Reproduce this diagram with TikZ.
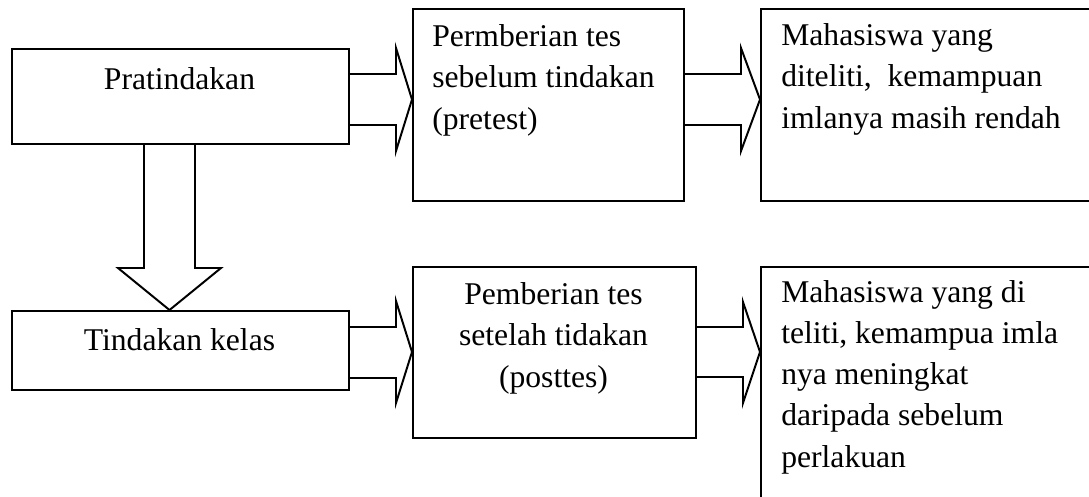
\documentclass[tikz,border=0pt]{standalone}
\usepackage{fontspec}
\setmainfont{Liberation Serif}
\usetikzlibrary{calc}

\begin{document}
\begin{tikzpicture}[x=0.025cm,y=-0.025cm,
  kotak/.style={draw,line width=1.4pt,inner sep=0pt,anchor=north west},
  teks/.style={inner sep=0pt,font=\fontsize{22.5pt}{29.2pt}\selectfont},
  panah/.style={draw,line width=1.4pt,line join=miter}]

\useasboundingbox (0,0) rectangle (1089,496);
\clip (0,0) rectangle (1089,496);

% kotak
\node[kotak,minimum width=8.425cm,minimum height=2.375cm] (pra) at (11,48) {};
\node[kotak,minimum width=6.775cm,minimum height=4.8cm] (pre) at (412,8) {};
\node[kotak,minimum width=8.4cm,minimum height=4.8cm] (hasil1) at (760,8) {};
\node[kotak,minimum width=8.425cm,minimum height=1.975cm] (tin) at (11,310) {};
\node[kotak,minimum width=7.075cm,minimum height=4.275cm] (post) at (412,266) {};
\node[kotak,minimum width=8.4cm,minimum height=6.5cm] (hasil2) at (760,266) {};

% teks (base = garis dasar baris terakhir)
\node[teks,anchor=base] (tpra) at (179.5,89) {Pratindakan};
\node[teks,anchor=base west,align=left] (tpre) at (432,129)
  {Permberian tes\\sebelum tindakan\\(pretest)};
\node[teks,anchor=base west,align=left] (thasil1) at (781,128)
  {Mahasiswa yang\\diteliti,\ \ kemampuan\\imlanya masih rendah};
\node[teks,anchor=base] (ttin) at (179.5,350) {Tindakan kelas};
\node[teks,anchor=base,align=center] (tpost) at (553.5,387)
  {Pemberian tes\\setelah tidakan\\(posttes)};
\node[teks,anchor=base west,align=left] (thasil2) at (781,467)
  {Mahasiswa yang di\\teliti, kemampua imla\\nya meningkat\\daripada sebelum\\perlakuan};

% panah blok
\draw[panah] (pra.east |- 0,74) -- (396,74) -- (396,48) -- (pre.west |- 0,99.5)
  -- (396,151) -- (396,125) -- (pra.east |- 0,125);
\draw[panah] (pre.east |- 0,74) -- (741,74) -- (741,48) -- (hasil1.west |- 0,99.5)
  -- (741,151) -- (741,125) -- (pre.east |- 0,125);
\draw[panah] (144,0 |- pra.south) -- (144,268) -- (118,268) -- (169.5,0 |- tin.north)
  -- (221,268) -- (195,268) -- (195,0 |- pra.south);
\draw[panah] (tin.east |- 0,327) -- (396,327) -- (396,301) -- (post.west |- 0,352)
  -- (396,403) -- (396,378) -- (tin.east |- 0,378);
\draw[panah] (post.east |- 0,327) -- (743,327) -- (743,302) -- (hasil2.west |- 0,352)
  -- (743,403) -- (743,377) -- (post.east |- 0,377);

\end{tikzpicture}
\end{document}
